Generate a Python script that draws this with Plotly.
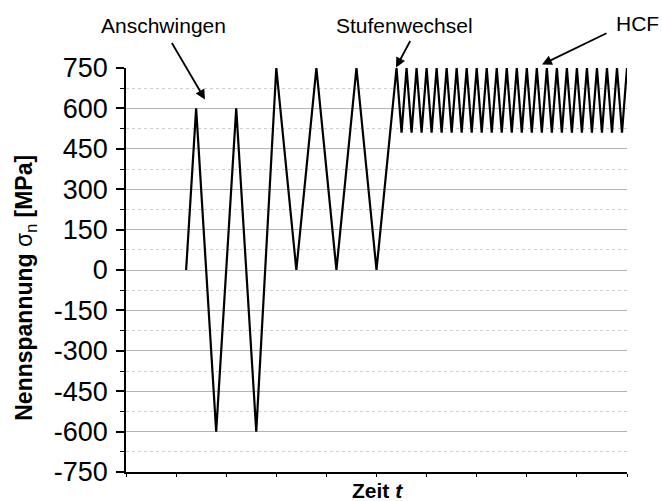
import plotly.graph_objects as go

# ---- data ----
time_s = [1.2, 1.4, 1.8, 2.2, 2.6, 3.0, 3.4, 3.8, 4.2, 4.6, 5.0, 5.4,
          5.5, 5.6, 5.7, 5.8, 5.9, 6.0, 6.1, 6.2, 6.3, 6.4, 6.5, 6.6,
          6.7, 6.8, 6.9, 7.0, 7.1, 7.2, 7.3, 7.4, 7.5, 7.6, 7.7, 7.8,
          7.9, 8.0, 8.1, 8.2, 8.3, 8.4, 8.5, 8.6, 8.7, 8.8, 8.9, 9.0,
          9.1, 9.2, 9.3, 9.4, 9.5, 9.6, 9.7, 9.8, 9.9, 10.0]
stress_mpa = [0, 600, -600, 600, -600, 750, 0, 750, 0, 750, 0, 750,
              510, 750, 510, 750, 510, 750, 510, 750, 510, 750, 510, 750,
              510, 750, 510, 750, 510, 750, 510, 750, 510, 750, 510, 750,
              510, 750, 510, 750, 510, 750, 510, 750, 510, 750, 510, 750,
              510, 750, 510, 750, 510, 750, 510, 750, 510, 750]

y_tick_vals = [-750, -600, -450, -300, -150, 0, 150, 300, 450, 600, 750]
y_tick_text = ["-750", "-600", "-450", "-300", "-150", "0", "150", "300", "450", "600", "750"]
y_minor_vals = [-675, -525, -375, -225, -75, 75, 225, 375, 525, 675]
y_grid_vals = [-600, -450, -300, -150, 0, 150, 300, 450, 600]
x_tick_vals = [0, 1, 2, 3, 4, 5, 6, 7, 8, 9, 10]

FONT = "Liberation Sans, Arial, sans-serif"

fig = go.Figure()
fig.add_trace(go.Scatter(x=time_s, y=stress_mpa, mode="lines",
                         line=dict(color="black", width=2.2), showlegend=False,
                         hoverinfo="skip"))
# invisible trace on the grid axis
fig.add_trace(go.Scatter(x=[time_s[0]], y=[stress_mpa[0]], yaxis="y2", mode="lines",
                         line=dict(width=0), showlegend=False, hoverinfo="skip"))

fig.update_layout(
    width=663, height=501,
    margin=dict(l=126, r=36, t=68, b=29),
    paper_bgcolor="white", plot_bgcolor="white",
    font=dict(family=FONT, color="black"),
    xaxis=dict(range=[0, 10], tickvals=x_tick_vals, showticklabels=False,
               ticks="outside", ticklen=3, tickwidth=1, tickcolor="black",
               showline=True, linecolor="black", linewidth=1.5,
               showgrid=False, zeroline=False,
               minor=dict(ticks="", showgrid=False)),
    yaxis=dict(range=[-750, 750], tickvals=y_tick_vals, ticktext=y_tick_text,
               ticks="outside", ticklen=8, tickwidth=1.5, tickcolor="black",
               tickfont=dict(size=27, family=FONT, color="black"),
               ticklabelstandoff=3,
               showline=True, linecolor="black", linewidth=1.5,
               showgrid=False, zeroline=False,
               minor=dict(tickvals=y_minor_vals, ticks="outside", ticklen=4,
                          tickwidth=1, tickcolor="black", showgrid=False)),
    yaxis2=dict(range=[-750, 750], overlaying="y", tickvals=y_grid_vals,
                showticklabels=False, ticks="", showline=False, zeroline=False,
                showgrid=True, gridcolor="#b4b4b4", gridwidth=1,
                minor=dict(tickvals=y_minor_vals, showgrid=True, gridcolor="#cfcfcf",
                           griddash="dot", gridwidth=1, ticks=""),
                layer="below traces"),
)

def px_x(px):
    return (px - 126) / 501.0

def px_y(py):
    return (472 - py) / 403.5

annos = []
# y-axis title
annos.append(dict(xref="paper", yref="paper", x=px_x(26), y=px_y(288),
                  text="<b>Nennspannung </b>σ<sub>n</sub><b> [MPa]</b>",
                  textangle=-90, showarrow=False, xanchor="center", yanchor="middle",
                  font=dict(size=23, family=FONT, color="black")))
# x-axis title
annos.append(dict(xref="paper", yref="paper", x=px_x(377), y=px_y(490),
                  text="<b>Zeit <i>t</i></b>", showarrow=False,
                  xanchor="center", yanchor="middle",
                  font=dict(size=21, family=FONT, color="black")))
# labels
for txt, cx, cy in [("Anschwingen", 163, 26), ("Stufenwechsel", 404, 26), ("HCF", 637, 24)]:
    annos.append(dict(xref="paper", yref="paper", x=px_x(cx), y=px_y(cy), text=txt,
                      showarrow=False, xanchor="center", yanchor="middle",
                      font=dict(size=21, family=FONT, color="black")))
# arrows (head px, tail px)
for (hx, hy), (tx, ty) in [((205, 100), (171, 42)), ((396, 68), (411, 40)), ((542, 65), (608, 33))]:
    annos.append(dict(xref="paper", yref="paper", x=px_x(hx), y=px_y(hy), text="",
                      showarrow=True, ax=tx - hx, ay=ty - hy, axref="pixel", ayref="pixel",
                      arrowhead=2, arrowsize=1.1, arrowwidth=1.8, arrowcolor="black"))
fig.update_layout(annotations=annos)

fig.write_html("out.html")
